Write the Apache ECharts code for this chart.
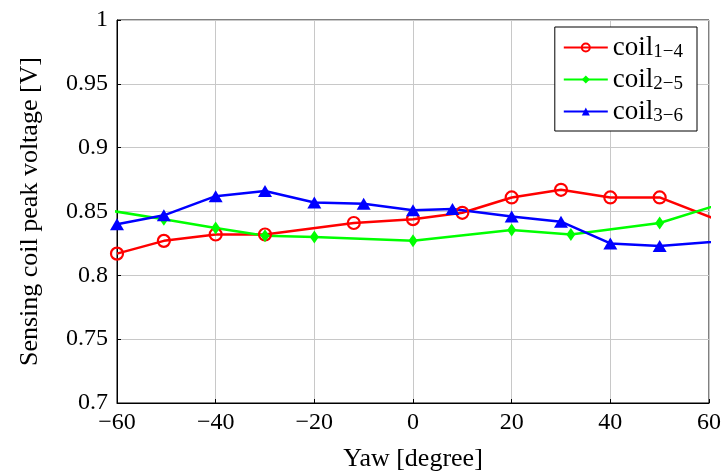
<!DOCTYPE html>
<html>
<head>
    <meta charset="utf-8">
    <script src="https://cdn.jsdelivr.net/npm/echarts@6/dist/echarts.min.js"></script>
</head>
<body style="margin:0">
<div id="main" style="width: 723px;height:473px;"></div>
</body>
<script>
    // values (yaw in degree, voltage in V)
    var yaw14 = [-60, -50.5, -40, -30, -12, 0, 10, 20, 30, 40, 50, 70];
    var coil14 = [0.817, 0.827, 0.832, 0.832, 0.841, 0.844, 0.849, 0.861, 0.867, 0.861, 0.861, 0.831];
    var yaw25 = [-70, -50.5, -40, -30, -20, 0, 20, 32, 50, 70];
    var coil25 = [0.856, 0.844, 0.837, 0.831, 0.830, 0.827, 0.8355, 0.832, 0.841, 0.865];
    var yaw36 = [-60, -50.5, -40, -30, -20, -10, 0, 8, 20, 30, 40, 50, 70];
    var coil36 = [0.840, 0.847, 0.862, 0.866, 0.857, 0.856, 0.851, 0.852, 0.846, 0.842, 0.825, 0.823, 0.829];
    var seriesNames = ['coil{s|1\u22124}', 'coil{s|2\u22125}', 'coil{s|3\u22126}'];

    function pairs(xs, ys) {
        return xs.map(function (x, i) { return [x, ys[i]]; });
    }

    var font = 'Liberation Serif';
    var myChart = echarts.init(document.getElementById('main'));

    option = {
        animation: false,
        backgroundColor: '#fff',
        grid: {
            left: 117, right: 14, top: 20, bottom: 70,
            outerBoundsMode: 'none', containLabel: false,
            show: true, borderColor: '#000', borderWidth: 1
        },
        legend: {
            orient: 'vertical',
            right: 26, top: 27,
            backgroundColor: '#fff',
            borderColor: '#000', borderWidth: 1, borderRadius: 0,
            padding: [7, 14, 5, 8],
            itemWidth: 44, itemHeight: 10, itemGap: 4,
            data: seriesNames,
            textStyle: {
                fontFamily: font, fontSize: 27, color: '#000',
                rich: {
                    s: { fontFamily: font, fontSize: 19, color: '#000', padding: [10, 0, 0, 0] }
                }
            }
        },
        xAxis: {
            type: 'value', min: -60, max: 60, interval: 20,
            name: 'Yaw [degree]', nameLocation: 'middle', nameGap: 43,
            nameTextStyle: { fontFamily: font, fontSize: 26, color: '#000' },
            axisLine: { onZero: false, lineStyle: { color: '#000' } },
            axisTick: { inside: true, length: 4, lineStyle: { color: '#000' } },
            axisLabel: {
                fontFamily: font, fontSize: 24, color: '#000', margin: 8,
                formatter: function (v) { return v < 0 ? '\u2212' + (-v) : '' + v; }
            },
            splitLine: { lineStyle: { color: '#c8c8c8' } }
        },
        yAxis: {
            type: 'value', min: 0.7, max: 1, interval: 0.05,
            name: 'Sensing coil peak voltage [V]', nameLocation: 'middle', nameGap: 74,
            nameTextStyle: { fontFamily: font, fontSize: 26, color: '#000' },
            axisLine: { show: true, onZero: false, lineStyle: { color: '#000' } },
            axisTick: { show: true, inside: true, length: 4, lineStyle: { color: '#000' } },
            axisLabel: { fontFamily: font, fontSize: 24, color: '#000', margin: 9 },
            splitLine: { lineStyle: { color: '#c8c8c8' } }
        },
        series: [
            {
                name: seriesNames[0], type: 'line', clip: true,
                data: pairs(yaw14, coil14),
                color: '#ff0000',
                lineStyle: { width: 2.5, color: '#ff0000' },
                symbol: 'circle', symbolSize: 12,
                itemStyle: { color: 'rgba(255,255,255,0)', borderColor: '#ff0000', borderWidth: 2.2 }
            },
            {
                name: seriesNames[1], type: 'line', clip: true,
                data: pairs(yaw25, coil25),
                color: '#00ff00',
                lineStyle: { width: 2.5 },
                symbol: 'diamond', symbolSize: [9, 13],
                itemStyle: { color: '#00ff00' }
            },
            {
                name: seriesNames[2], type: 'line', clip: true,
                data: pairs(yaw36, coil36),
                color: '#0000ff',
                lineStyle: { width: 2.5 },
                symbol: 'triangle', symbolSize: [14, 12],
                itemStyle: { color: '#0000ff' }
            }
        ]
    };
    myChart.setOption(option);
</script>
</html>
